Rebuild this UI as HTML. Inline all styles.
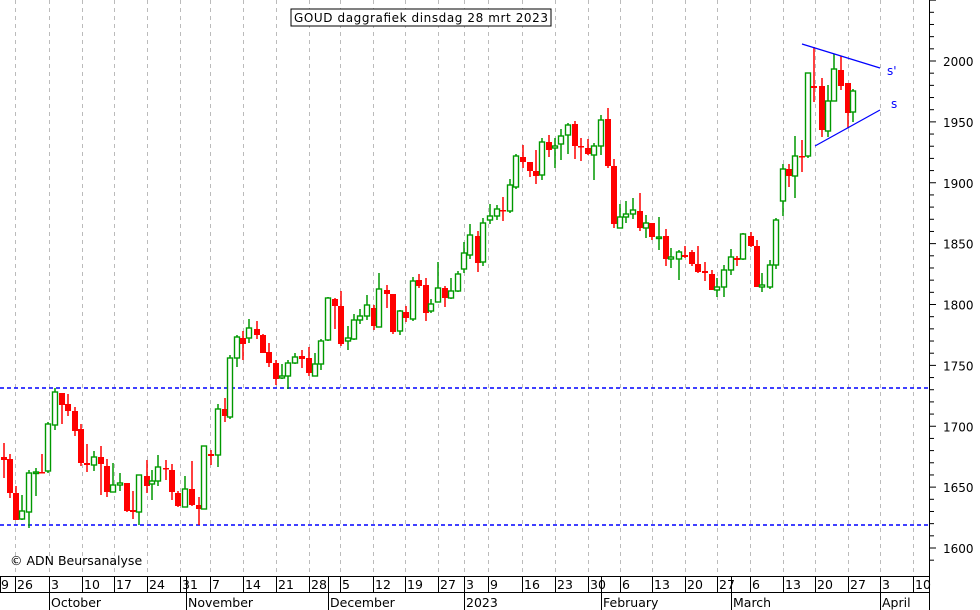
<!DOCTYPE html>
<html><head><meta charset="utf-8"><style>
html,body{margin:0;padding:0;background:#fff}
svg{display:block;font-family:"DejaVu Sans","Liberation Sans",sans-serif}
</style></head><body>
<svg id="c" width="980" height="610" xmlns="http://www.w3.org/2000/svg">
<rect width="980" height="610" fill="#fff"/>
<g id="grid"></g>
<line x1="0" y1="388" x2="929" y2="388" stroke="#00f" stroke-width="1.5" stroke-dasharray="4,3"/>
<line x1="0" y1="525" x2="929" y2="525" stroke="#00f" stroke-width="1.5" stroke-dasharray="4,3"/>
<g id="cd"></g>
<line x1="802" y1="44" x2="880" y2="68" stroke="#00f" stroke-width="1.2"/>
<line x1="815" y1="146" x2="880" y2="110" stroke="#00f" stroke-width="1.2"/>
<text x="887" y="75" font-size="12" fill="#00f">s'</text>
<text x="891" y="108" font-size="12" fill="#00f">s</text>
<rect x="291" y="9" width="260" height="17" fill="#fff" stroke="#000"/>
<text x="421" y="22" font-size="12" text-anchor="middle" textLength="254">GOUD daggrafiek dinsdag 28 mrt 2023</text>
<text x="10" y="565" font-size="12.5">© ADN Beursanalyse</text>
<line x1="929.5" y1="0" x2="929.5" y2="610" stroke="#000"/>
<g id="ax"></g>
<line x1="0" y1="576.5" x2="929" y2="576.5" stroke="#000"/>
<line x1="0" y1="592.5" x2="929" y2="592.5" stroke="#000"/>
<g id="dt" font-size="12.5"></g>
</svg>
<script>
const ns="http://www.w3.org/2000/svg";
function el(p,t,a,txt){const e=document.createElementNS(ns,t);for(const k in a)e.setAttribute(k,a[k]);if(txt!=null)e.textContent=txt;p.appendChild(e);return e;}
const wk=[15,49,82,114,147,180,210,243,276,309,340,373,405,438,464,488,522,555,588,620,652,685,717,750,783,815,848,880,913];
const G=document.getElementById('grid');
wk.forEach(x=>el(G,'line',{x1:x+.5,y1:0,x2:x+.5,y2:576,stroke:'#bbb','stroke-dasharray':'4,4'}));
const D=[
[4,457,460,443,478,'r'],[10,459,493,454,498,'r'],[16,493,520,486,520,'r'],[22,511,519,495,520,'g'],[29,473,512,470,528,'g'],[36,472,473,468,496,'g'],[42,472,473,454,473,'r'],[48,424,471,422,473,'g'],[55,392,425,388,430,'g'],[62,393,405,393,424,'r'],[68,404,411,394,416,'r'],[75,411,431,407,436,'r'],[81,429,463,424,466,'r'],[87,463,465,444,472,'r'],[94,457,465,451,471,'g'],[101,457,464,446,495,'r'],[107,466,492,459,497,'r'],[113,485,492,463,492,'g'],[120,483,485,473,491,'g'],[127,483,511,483,512,'r'],[133,510,512,491,519,'r'],[139,475,512,475,525,'g'],[147,476,486,460,493,'r'],[152,481,484,470,500,'g'],[158,467,481,455,486,'g'],[166,468,469,460,480,'r'],[172,470,492,464,500,'r'],[178,493,506,491,507,'r'],[185,489,507,476,507,'g'],[192,489,505,461,506,'r'],[199,505,509,497,525,'r'],[204,446,509,446,509,'g'],[211,454,456,450,465,'r'],[218,409,455,404,467,'g'],[225,409,416,398,422,'r'],[230,358,417,355,419,'g'],[237,337,358,335,367,'g'],[243,338,344,331,360,'r'],[249,328,338,319,343,'g'],[257,329,335,321,339,'r'],[263,335,353,334,353,'r'],[269,352,363,343,367,'r'],[276,363,379,360,385,'r'],[282,376,378,364,379,'g'],[288,363,376,360,389,'g'],[295,357,363,353,364,'g'],[302,356,359,350,368,'r'],[309,358,373,347,376,'r'],[315,364,376,353,376,'g'],[321,341,364,339,370,'g'],
[328,298,340,297,341,'g'],[335,299,306,298,329,'r'],[341,306,344,291,346,'r'],[348,338,341,326,350,'g'],[354,320,339,314,340,'g'],[360,316,320,309,324,'g'],[367,305,316,295,320,'g'],[374,308,326,305,330,'r'],[379,289,327,273,327,'g'],[387,290,294,285,308,'r'],[393,294,332,294,334,'r'],[400,311,331,310,335,'g'],[406,312,318,306,322,'r'],[413,281,319,277,321,'g'],[419,280,286,274,288,'r'],[426,285,313,278,321,'r'],[431,304,311,299,313,'g'],[438,288,302,262,302,'g'],[445,288,298,286,307,'r'],[451,291,298,278,299,'g'],[458,274,291,271,292,'g'],[464,253,269,242,273,'g'],[470,235,255,224,259,'g'],[478,236,263,231,272,'r'],[483,223,262,218,266,'g'],[490,216,220,204,224,'g'],[497,209,216,205,220,'g'],[503,210,211,197,221,'r'],[510,185,211,179,213,'g'],[516,156,187,154,189,'g'],[523,157,162,145,168,'r'],[530,162,171,162,177,'r'],[536,171,176,150,184,'r'],[542,142,175,138,180,'g'],[549,142,150,135,157,'r'],[555,146,148,138,168,'g'],[561,136,144,129,160,'g'],[568,125,135,123,154,'g'],[575,124,146,121,159,'r'],[581,146,147,138,161,'r'],[588,148,154,139,155,'r'],[594,146,155,143,180,'g'],[601,120,146,115,155,'g'],[608,119,166,108,168,'r'],[614,166,224,159,228,'r'],
[620,217,228,204,228,'g'],[626,214,217,201,223,'g'],[633,210,214,198,219,'g'],[640,211,228,193,231,'r'],[646,223,228,215,238,'g'],[652,223,237,223,240,'r'],[659,237,238,217,250,'g'],[666,236,259,229,266,'r'],[671,257,259,248,268,'g'],[679,252,259,250,280,'g'],[685,255,257,246,258,'r'],[692,252,264,250,266,'r'],[698,264,272,246,273,'r'],[705,271,273,262,281,'r'],[712,274,290,270,290,'r'],[717,287,290,278,297,'g'],[724,270,287,265,297,'g'],[731,257,270,249,275,'g'],[737,258,260,256,266,'r'],[743,234,259,233,260,'g'],[751,236,246,232,247,'r'],[757,246,287,240,287,'r'],[762,285,287,273,292,'g'],[770,265,287,260,289,'g'],[776,220,265,218,269,'g'],[783,169,201,164,216,'g'],[789,169,176,164,187,'r'],[795,156,176,136,198,'g'],[802,156,157,140,172,'r'],[808,73,156,73,158,'g'],[814,86,88,47,102,'r'],[822,86,130,78,137,'r'],[828,101,131,85,137,'g'],[834,69,101,54,101,'g'],[841,70,86,56,90,'r'],[848,83,113,83,128,'r'],[853,91,112,89,122,'g']];
const C=document.getElementById('cd');
D.forEach(([x,bt,bb,wt,wb,c])=>{
 const col=c=='g'?'#090':'#f00';
 el(C,'line',{x1:x,y1:wt,x2:x,y2:wb,stroke:col,'stroke-width':1.5});
 const h=Math.max(bb-bt,1.5);
 if(c=='g')el(C,'rect',{x:x-2.5,y:bt,width:5,height:h,fill:'#fff',stroke:col,'stroke-width':1.4});
 else el(C,'rect',{x:x-3,y:bt,width:6,height:h,fill:col});
});
const A=document.getElementById('ax');
for(let v=1590;v<=2050;v+=10){const y=61+(2000-v)*1.2175;if(y<0||y>576)continue;
 const maj=v%50==0;el(A,'line',{x1:929,y1:y,x2:maj?936:934,y2:y,stroke:'#000'});
 if(maj&&y>10)el(A,'text',{x:943,y:y+5,'font-size':12},v);}
const T=document.getElementById('dt');
const lab=[[0,'19'],[15,'26'],[49,'3'],[82,'10'],[114,'17'],[147,'24'],[180,'31'],[210,'7'],[243,'14'],[276,'21'],[309,'28'],[340,'5'],[373,'12'],[405,'19'],[438,'27'],[464,'3'],[488,'9'],[522,'16'],[555,'23'],[588,'30'],[620,'6'],[652,'13'],[685,'20'],[717,'27'],[750,'6'],[783,'13'],[815,'20'],[848,'27'],[880,'3'],[913,'10']];
lab.forEach(([x,t])=>{el(T,'line',{x1:x+.5,y1:576,x2:x+.5,y2:592,stroke:'#000'});el(T,'text',{x:x?x+2:-7,y:589},t);});
const mo=[[49,'October'],[186,'November'],[328,'December'],[464,'2023'],[601,'February'],[731,'March'],[880,'April']];
mo.forEach(([x,t])=>{el(T,'line',{x1:x+.5,y1:576,x2:x+.5,y2:610,stroke:'#000'});el(T,'text',{x:x+2,y:607},t);});
</script>
</body></html>
